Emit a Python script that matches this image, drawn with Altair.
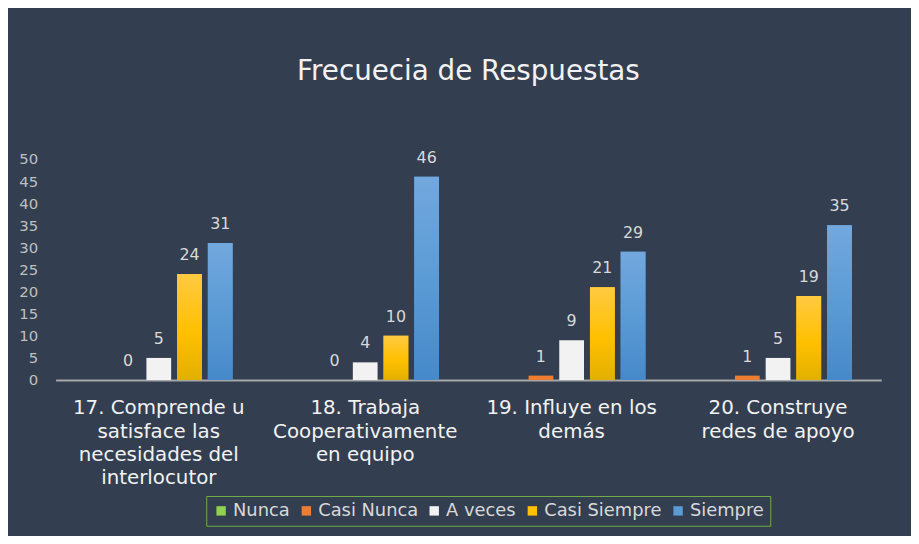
import altair as alt
import pandas as pd

categorias = [
    "17. Comprende u|satisface las|necesidades del|interlocutor",
    "18.  Trabaja|Cooperativamente|en equipo",
    "19. Influye en los|demás",
    "20. Construye|redes de apoyo",
]
series = ["Nunca", "Casi Nunca", "A veces", "Casi Siempre", "Siempre"]
nunca = [None, None, None, None]
casi_nunca = [0, 0, 1, 1]
a_veces = [5, 4, 9, 5]
casi_siempre = [24, 10, 21, 19]
siempre = [31, 46, 29, 35]
colores = ["#92d050", "#ed7d31", "#f2f2f2", "#ffc000", "#5b9bd5"]
y_ticks = [0, 5, 10, 15, 20, 25, 30, 35, 40, 45, 50]

valores = [nunca, casi_nunca, a_veces, casi_siempre, siempre]
rows = []
for s, vals in zip(series, valores):
    for c, v in zip(categorias, vals):
        rows.append({"categoria": c, "serie": s, "valor": v})
df = pd.DataFrame(rows)

FONT = "DejaVu Sans"

x_enc = alt.X(
    "categoria:N",
    sort=categorias,
    scale=alt.Scale(paddingInner=0.256, paddingOuter=0.128),
    axis=alt.Axis(
        title=None,
        labelAngle=0,
        labelExpr="split(datum.label, '|')",
        labelFontSize=20,
        labelFont=FONT,
        labelColor="#f2f2f2",
        labelLineHeight=23.5,
        labelPadding=18,
        labelBaseline="top",
        labelLimit=400,
        ticks=False,
        domain=True,
        domainColor="#a6a6a6",
        domainWidth=2,
        grid=False,
    ),
)
xoff_enc = alt.XOffset(
    "serie:N",
    sort=series,
    scale=alt.Scale(domain=series, paddingInner=0.194, paddingOuter=0.097),
)
y_enc = alt.Y(
    "valor:Q",
    scale=alt.Scale(domain=[0, 50], nice=False),
    axis=alt.Axis(
        title=None,
        values=y_ticks,
        grid=False,
        domain=False,
        ticks=False,
        labelFontSize=15,
        labelFont=FONT,
        labelColor="#bfbfbf",
        labelPadding=18,
    ),
)

base = alt.Chart(df)

bars = base.mark_bar().encode(
    x=x_enc,
    xOffset=xoff_enc,
    y=y_enc,
    color=alt.Color(
        "serie:N",
        sort=series,
        scale=alt.Scale(domain=series, range=colores),
        legend=alt.Legend(
            title=None,
            orient="none",
            legendX=152,
            legendY=340,
            direction="horizontal",
            symbolType="square",
            symbolSize=90,
            symbolStrokeWidth=0,
            labelFontSize=18,
            labelFont=FONT,
            labelColor="#d9d9d9",
            labelOffset=3,
            columnPadding=7,
            padding=6,
            strokeColor="#70ad47",
        ),
    ),
)

grad_yellow = alt.Gradient(
    gradient="linear",
    x1=0, y1=0, x2=0, y2=1,
    stops=[
        alt.GradientStop(color="#ffca42", offset=0),
        alt.GradientStop(color="#ffc000", offset=0.55),
        alt.GradientStop(color="#e2b000", offset=1),
    ],
)
grad_blue = alt.Gradient(
    gradient="linear",
    x1=0, y1=0, x2=0, y2=1,
    stops=[
        alt.GradientStop(color="#72a8de", offset=0),
        alt.GradientStop(color="#5b9bd5", offset=0.5),
        alt.GradientStop(color="#4689ca", offset=1),
    ],
)

over_yellow = base.transform_filter(alt.datum.serie == "Casi Siempre").mark_bar(
    color=grad_yellow
).encode(x=x_enc, xOffset=xoff_enc, y=y_enc)
over_blue = base.transform_filter(alt.datum.serie == "Siempre").mark_bar(
    color=grad_blue
).encode(x=x_enc, xOffset=xoff_enc, y=y_enc)

labels = base.transform_filter("isValid(datum.valor)").mark_text(
    baseline="alphabetic",
    dy=-14,
    fontSize=16,
    font=FONT,
    color="#d9d9d9",
).encode(x=x_enc, xOffset=xoff_enc, y=y_enc, text=alt.Text("valor:Q"))

chart = (
    alt.layer(bars, over_yellow, over_blue, labels)
    .properties(
        width=833,
        height=223,
        autosize=alt.AutoSizeParams(type="none"),
        padding={"left": 48, "top": 150, "right": 30, "bottom": 155},
        background="#333f50",
        title=alt.TitleParams(
            "Frecuecia de Respuestas",
            fontSize=28,
            font=FONT,
            fontWeight="normal",
            color="#f2f2f2",
            anchor="middle",
            baseline="alphabetic",
            offset=43,
        ),
    )
    .configure_view(stroke=None)
)

chart.save("out.html", embed_options={"renderer": "svg", "actions": False})
